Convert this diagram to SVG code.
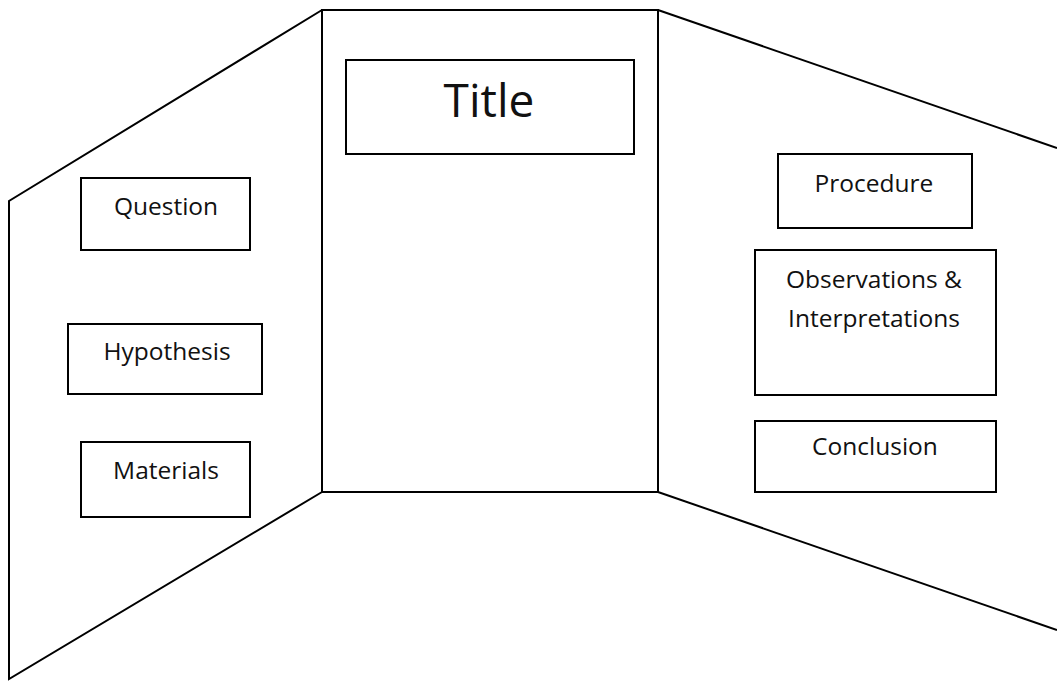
<svg xmlns="http://www.w3.org/2000/svg" width="1057" height="681" viewBox="0 0 1057 681">
<style>
.ln{fill:none;stroke:#000;stroke-width:2;stroke-linejoin:miter}
.bx{fill:#fff;stroke:#000;stroke-width:2}
.t{font-family:"Open Sans","Liberation Sans",sans-serif;font-size:24.5px;fill:#111;text-anchor:middle}
.tt{font-family:"Open Sans","Liberation Sans",sans-serif;font-size:46px;fill:#111;text-anchor:middle}
</style>
<rect width="1057" height="681" fill="#fff"/>
<g id="board">
<polyline class="ln" points="322,10 9,201 9,679 322,492"/>
<rect class="ln" x="322" y="10" width="336" height="482"/>
<polyline class="ln" points="658,10 1057,148"/>
<polyline class="ln" points="658,492 1057,630"/>
</g>
<g id="title"><rect class="bx" x="346" y="60" width="288" height="94"/><text class="tt" x="489" y="117">Title</text></g>
<g id="question"><rect class="bx" x="81" y="178" width="169" height="72"/><text class="t" x="166" y="215">Question</text></g>
<g id="hypothesis"><rect class="bx" x="68" y="324" width="194" height="70"/><text class="t" x="167" y="360">Hypothesis</text></g>
<g id="materials"><rect class="bx" x="81" y="442" width="169" height="75"/><text class="t" x="166" y="479">Materials</text></g>
<g id="procedure"><rect class="bx" x="778" y="154" width="194" height="74"/><text class="t" x="874" y="192">Procedure</text></g>
<g id="observations"><rect class="bx" x="755" y="250" width="241" height="145"/><text class="t" x="874" y="288">Observations &amp;</text><text class="t" x="874" y="327">Interpretations</text></g>
<g id="conclusion"><rect class="bx" x="755" y="421" width="241" height="71"/><text class="t" x="875" y="455">Conclusion</text></g>
<g id="connectors"></g>
</svg>
